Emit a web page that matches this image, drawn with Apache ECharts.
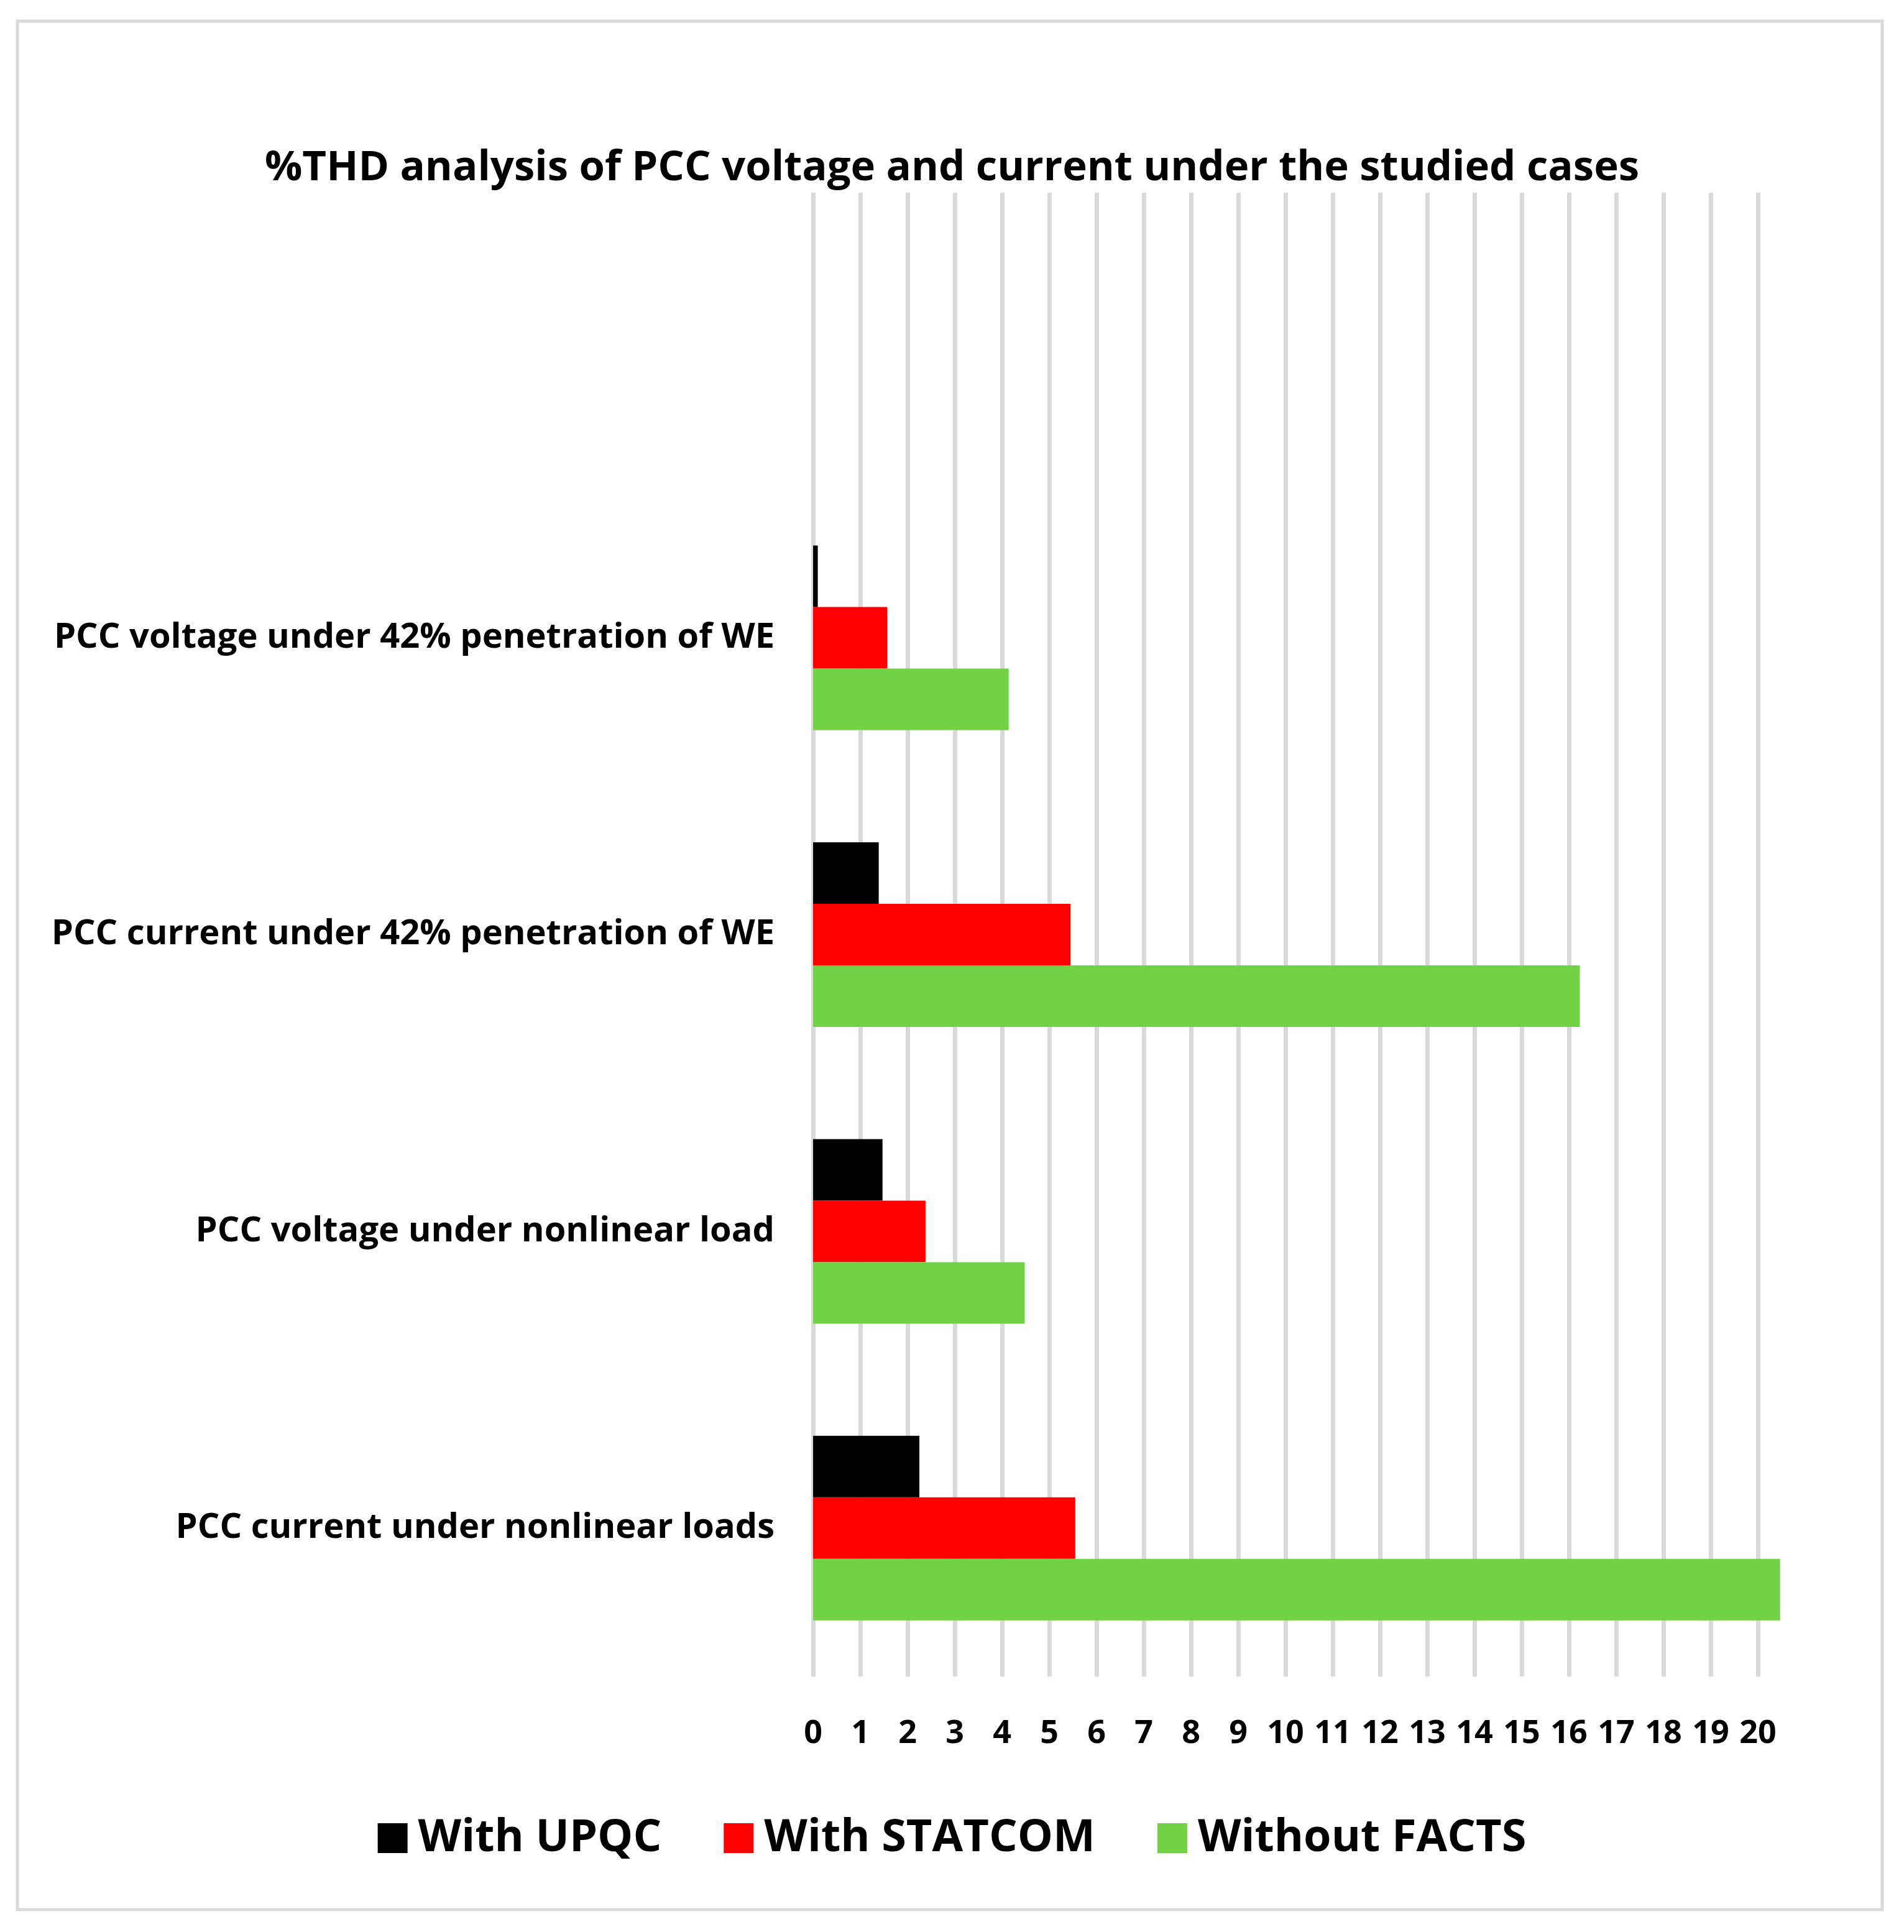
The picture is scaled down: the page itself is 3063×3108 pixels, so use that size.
<!DOCTYPE html>
<html>
<head>
<meta charset="utf-8">
<script src="https://cdn.jsdelivr.net/npm/echarts@6/dist/echarts.min.js"></script>
<style>html,body{margin:0;padding:0;background:#fff}#c{width:3063px;height:3108px}</style>
</head>
<body>
<div id="c"></div>
<script>
const categories = ['PCC current under nonlinear loads', 'PCC voltage under nonlinear load',
    'PCC current under 42% penetration of WE', 'PCC voltage under 42% penetration of WE', ''];
const upqc = [2.25, 1.47, 1.39, 0.1, null];
const statcom = [5.55, 2.38, 5.45, 1.57, null];
const withoutFacts = [20.47, 4.48, 16.23, 4.14, null];

const font = 'Open Sans, Liberation Sans, sans-serif';
const chart = echarts.init(document.getElementById('c'));
chart.setOption({
    backgroundColor: '#fff',
    title: {
        text: '%THD analysis of PCC voltage and current under the studied cases',
        left: 'center', top: 232,
        textStyle: { fontFamily: font, fontWeight: 'bold', fontSize: 67, color: '#000' }
    },
    graphic: [{
        type: 'rect', shape: { x: 28, y: 34, width: 3000, height: 3038 },
        style: { fill: 'none', stroke: '#d9d9d9', lineWidth: 5 }
    }],
    legend: {
        data: ['With UPQC', 'With STATCOM', 'Without FACTS'],
        bottom: 110, left: 'center', icon: 'rect', itemWidth: 48, itemHeight: 48, itemGap: 100,
        textStyle: { fontFamily: font, fontWeight: 'bold', fontSize: 72, color: '#000', padding: [0, 0, 0, 12] }
    },
    grid: { left: 1308, right: 235, top: 310, bottom: 411, containLabel: false },
    xAxis: {
        type: 'value', min: 0, max: 20, interval: 1,
        axisLine: { show: false }, axisTick: { show: false },
        splitLine: { lineStyle: { color: '#d9d9d9', width: 7 } },
        axisLabel: { fontFamily: font, fontWeight: 'bold', fontSize: 52, color: '#000', margin: 66 }
    },
    yAxis: {
        type: 'category', data: categories,
        axisLine: { show: false }, axisTick: { show: false },
        axisLabel: { fontFamily: font, fontWeight: 'bold', fontSize: 56, color: '#000', margin: 62 }
    },
    series: [
        { name: 'With UPQC', type: 'bar', data: upqc, barWidth: 99, barGap: '0%', clip: false, itemStyle: { color: '#000000' } },
        { name: 'With STATCOM', type: 'bar', data: statcom, barWidth: 99, barGap: '0%', clip: false, itemStyle: { color: '#ff0000' } },
        { name: 'Without FACTS', type: 'bar', data: withoutFacts, barWidth: 99, barGap: '0%', clip: false, itemStyle: { color: '#70d244' } }
    ]
});
</script>
</body>
</html>
